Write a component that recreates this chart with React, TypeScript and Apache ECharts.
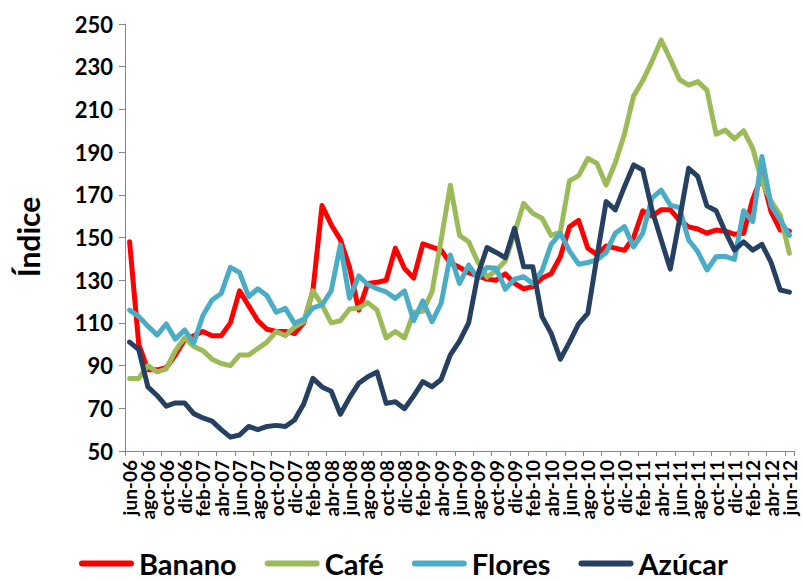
import React, { useEffect, useRef } from "react";
import * as echarts from "echarts";

const monthNames = ["jun", "jul", "ago", "sep", "oct", "nov", "dic", "ene", "feb", "mar", "abr", "may"];
const categories: string[] = Array.from({ length: 73 }, (_, i) =>
  `${monthNames[i % 12]}-${String(6 + Math.floor((i + 5) / 12)).padStart(2, "0")}`
);

const yTickLabels = ["50", "70", "90", "110", "130", "150", "170", "190", "210", "230", "250"];

const banano = [148, 100, 88, 88, 89, 95, 102, 104, 106, 104, 104, 110, 125, 118, 111, 107, 106, 106, 105, 110, 125, 165, 156, 149, 136, 116, 128.5, 129, 130, 145, 135.5, 131, 147, 145.5, 144, 138, 136, 133.5, 132, 130.5, 130, 133, 128.5, 126, 127, 131, 133, 141, 155, 158, 145, 142, 146, 145, 144, 150, 162.5, 160, 163, 163, 158, 155, 154, 152, 153.5, 153, 151.5, 152, 168, 179, 162, 153.5, 153];
const cafe = [84, 84, 90, 87, 88.5, 97, 103, 99, 97, 93, 91, 90, 95, 95, 98, 101, 106, 104, 108, 110.5, 125, 118.5, 110, 111, 116.5, 117, 119.5, 116, 103, 106, 103, 115, 115.5, 124.5, 149, 174.5, 151, 148, 138.5, 131.5, 134.5, 139, 152, 166, 161.3, 159, 151, 152.5, 176.5, 179, 187, 184.7, 174.6, 185, 198.5, 216.3, 223.5, 232.5, 242.5, 233.5, 224, 221.4, 223, 219, 198.4, 200.3, 196.2, 200, 191.8, 176, 167, 160.5, 142.6];
const flores = [116, 113, 108.5, 104.3, 109.5, 102.4, 106.7, 100.6, 113.5, 120.7, 123.8, 136, 133.6, 122.3, 126, 122.7, 115, 116.8, 109.8, 111.7, 117, 118.4, 125, 146.5, 121.5, 132, 128, 126, 124.5, 121.5, 125, 111, 120.3, 110.6, 119.2, 141.8, 128.5, 137.1, 130.8, 136, 135.6, 125.8, 130.5, 131.6, 128.5, 134.4, 146.8, 151.9, 143.7, 137.5, 138.3, 139.5, 143, 152, 155.1, 145.6, 152, 168.4, 172.2, 165.2, 164, 148.8, 143.4, 134.8, 141, 141.2, 139.7, 162.5, 157.4, 187.9, 164.8, 158.2, 151];
const azucar = [101, 97.5, 80, 76, 71, 72.5, 72.5, 67.5, 65.5, 64, 60, 56.5, 57.5, 61.5, 60, 61.5, 62, 61.5, 64.5, 72, 84, 80, 78, 67.2, 75, 81.7, 84.8, 87, 72.3, 73.1, 69.8, 75.8, 82.5, 80.1, 83.5, 95, 101.5, 110, 132.5, 145.3, 143, 140.5, 154.3, 136.3, 136.3, 113, 105.1, 93, 101, 109.5, 114.5, 141, 166.8, 162.9, 173.8, 184, 181.6, 163, 149, 135.2, 158.2, 182.4, 178.6, 164.8, 162.5, 152.7, 144.1, 148, 144.1, 146.8, 138.3, 125.4, 124.4];

const seriesNames = ["Banano", "Café", "Flores", "Azúcar"];
const seriesColors = ["#FF0000", "#9BBB59", "#4BACC6", "#254061"];
const seriesData = [banano, cafe, flores, azucar];

const FONT = "Lato";
const AXIS_COLOR = "#868686";

export default function App() {
  const ref = useRef<HTMLDivElement>(null);
  useEffect(() => {
    if (!ref.current) return;
    const chart = echarts.init(ref.current, null, { renderer: "svg" });
    chart.setOption({
      animation: false,
      backgroundColor: "#ffffff",
      textStyle: { fontFamily: FONT },
      grid: { left: 125, right: 8, top: 24, bottom: 130, containLabel: false },
      xAxis: {
        type: "category",
        data: categories,
        boundaryGap: true,
        axisLine: { lineStyle: { color: AXIS_COLOR, width: 1 } },
        axisTick: { show: true, interval: 1, length: 5, lineStyle: { color: AXIS_COLOR } },
        axisLabel: {
          interval: 0,
          formatter: (value: string, index: number) => (index % 2 === 0 ? value : ""),
          rotate: 90,
          margin: 9,
          hideOverlap: false,
          padding: [0, 0, 7, 0],
          fontFamily: FONT,
          fontWeight: "bold",
          fontSize: 19,
          color: "#000",
        },
        splitLine: { show: false },
      },
      yAxis: [
        { type: "value", min: 50, max: 250, show: false },
        {
          type: "value",
          min: 0,
          max: 200,
          interval: 20,
          position: "left",
          axisLine: { show: true, lineStyle: { color: AXIS_COLOR, width: 1 } },
          axisTick: { show: true, length: 6, lineStyle: { color: AXIS_COLOR } },
          axisLabel: {
            formatter: (v: number) => yTickLabels[Math.round(v / 20)],
            margin: 12,
            fontFamily: FONT,
            fontWeight: "bold",
            fontSize: 22,
            color: "#000",
          },
          splitLine: { show: false },
        },
      ],
      legend: {
        left: 74,
        top: 544,
        itemWidth: 55,
        itemHeight: 6,
        itemGap: 28,
        icon: "path://M3,0 L52,0 A3,3 0 0 1 52,6 L3,6 A3,3 0 0 1 3,0 Z",
        textStyle: { fontFamily: FONT, fontWeight: "bold", fontSize: 29, color: "#000" },
        data: seriesNames,
      },
      graphic: [
        {
          type: "text",
          x: 28,
          y: 237,
          rotation: Math.PI / 2,
          style: {
            text: "Índice",
            fontFamily: FONT,
            fontWeight: "bold",
            fontSize: 30,
            fill: "#000",
            align: "center",
            verticalAlign: "middle",
          },
        },
      ],
      series: seriesNames.map((name, k) => ({
        name,
        type: "line",
        yAxisIndex: 0,
        data: seriesData[k],
        showSymbol: false,
        symbol: "none",
        color: seriesColors[k],
        lineStyle: { width: 5, color: seriesColors[k], cap: "round", join: "round" },
      })),
    });
    return () => chart.dispose();
  }, []);
  return (
    <div
      ref={ref}
      style={{ position: "fixed", left: 0, top: 0, width: 802, height: 581, background: "#fff" }}
    />
  );
}
